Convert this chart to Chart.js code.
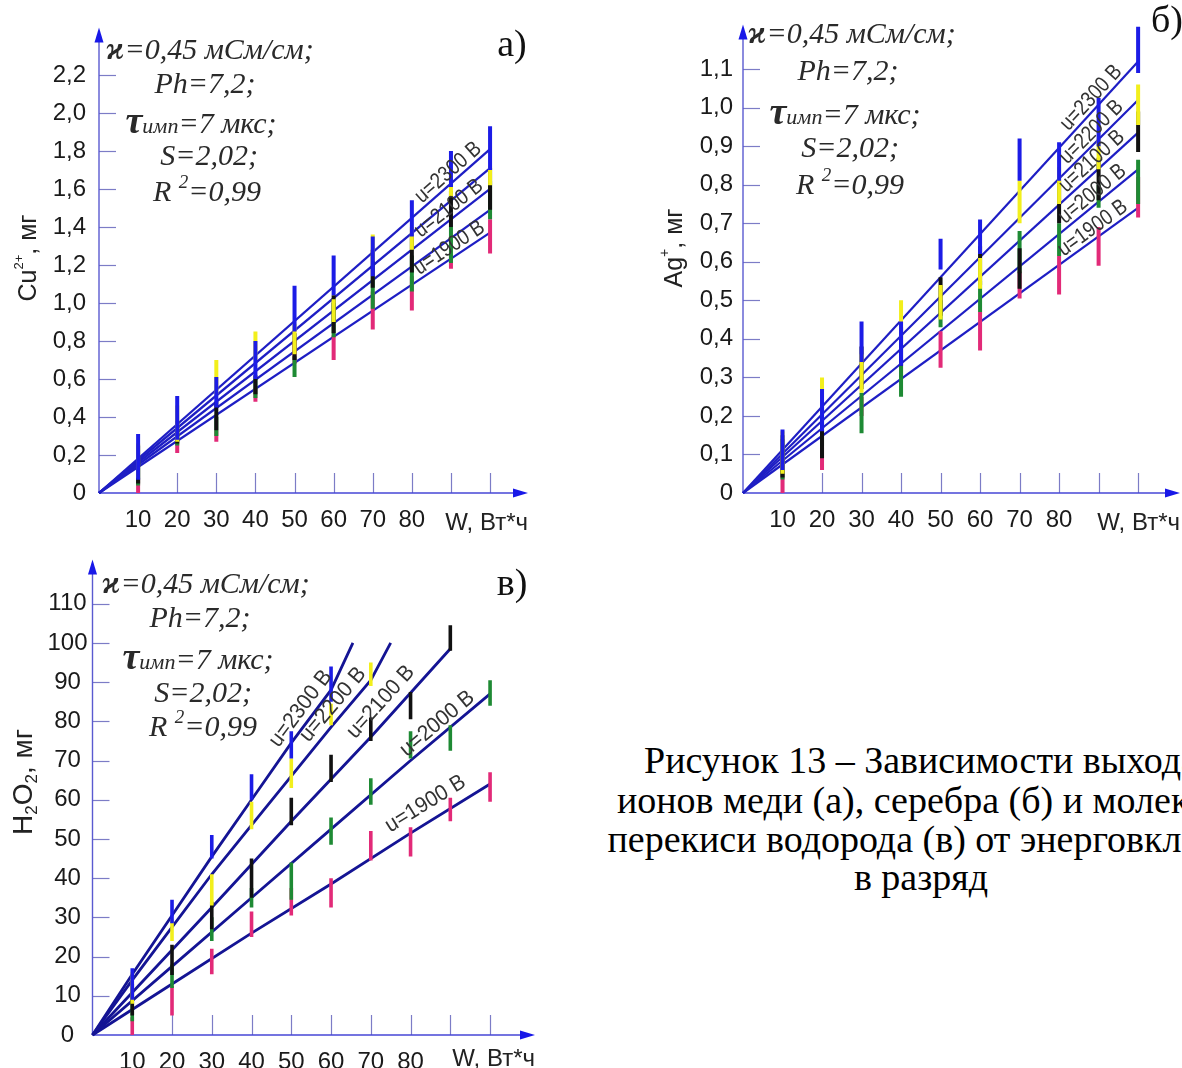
<!DOCTYPE html>
<html><head><meta charset="utf-8">
<script src="https://cdn.jsdelivr.net/npm/chart.js@4.4.1/dist/chart.umd.min.js"></script>
<style>
html,body{margin:0;padding:0;background:#fff;}
body{width:1182px;height:1068px;overflow:hidden;position:relative;}
canvas{position:absolute;}
.t{position:absolute;transform:translate(-50%,-50%);font-family:"Liberation Serif","DejaVu Serif",serif;font-style:italic;font-size:30px;color:#2a2a2a;white-space:nowrap;line-height:1;}
.t .k{font-weight:bold;font-size:32px;}
.t .tau{font-weight:bold;font-size:38px;}
.t .sm{font-size:22px;}
.t sup{font-size:19px;vertical-align:13px;line-height:0;}
.p{position:absolute;transform:translate(-50%,-50%);font-family:"Liberation Serif",serif;font-size:38px;color:#111;line-height:1;}
.cap{position:absolute;transform:translate(-50%,-50%);font-family:"Liberation Serif",serif;font-size:38px;color:#000;white-space:nowrap;line-height:1;}
</style></head>
<body>
<canvas id="ca" width="560" height="540" style="left:0;top:0"></canvas>
<canvas id="cb" width="592" height="540" style="left:590px;top:0"></canvas>
<canvas id="cc" width="560" height="528" style="left:0;top:540px"></canvas>

<div class="t" style="left:210px;top:48px"><span class="k">ϰ</span>=0,45 мСм/см;</div>
<div class="t" style="left:205px;top:83px">Ph=7,2;</div>
<div class="t" style="left:201px;top:120px"><span class="tau">τ</span><span class="sm">имп</span>=7 мкс;</div>
<div class="t" style="left:209px;top:155px">S=2,02;</div>
<div class="t" style="left:207px;top:191px">R <sup>2</sup>=0,99</div>
<div class="p" style="left:512px;top:43px">а)</div>

<div class="t" style="left:852px;top:32px"><span class="k">ϰ</span>=0,45 мСм/см;</div>
<div class="t" style="left:848px;top:70px">Ph=7,2;</div>
<div class="t" style="left:845px;top:111px"><span class="tau">τ</span><span class="sm">имп</span>=7 мкс;</div>
<div class="t" style="left:850px;top:147px">S=2,02;</div>
<div class="t" style="left:850px;top:184px">R <sup>2</sup>=0,99</div>
<div class="p" style="left:1167px;top:19px">б)</div>

<div class="t" style="left:206px;top:582px"><span class="k">ϰ</span>=0,45 мСм/см;</div>
<div class="t" style="left:200px;top:617px">Ph=7,2;</div>
<div class="t" style="left:198px;top:656px"><span class="tau">τ</span><span class="sm">имп</span>=7 мкс;</div>
<div class="t" style="left:203px;top:692px">S=2,02;</div>
<div class="t" style="left:203px;top:726px">R <sup>2</sup>=0,99</div>
<div class="p" style="left:512px;top:582px">в)</div>

<div class="cap" style="left:921px;top:760px">Рисунок 13 – Зависимости выхода</div>
<div class="cap" style="left:921px;top:800px">ионов меди (а), серебра (б) и молекул</div>
<div class="cap" style="left:921px;top:839px">перекиси водорода (в) от энерговклада</div>
<div class="cap" style="left:921px;top:877px">в разряд</div>

<script>
// ---------- shared ----------
const wValues = [10, 20, 30, 40, 50, 60, 70, 80, 90, 100];
const xLabelTicks = [10, 20, 30, 40, 50, 60, 70, 80];
const seriesLabels = ['u=2300 В', 'u=2200 В', 'u=2100 В', 'u=2000 В', 'u=1900 В'];
const barColors = ['#1c1ce6', '#f2ef1c', '#111111', '#1e8a34', '#e22a78'];

// ---------- (а) Cu2+ ----------
const cuTicks = [0, 0.2, 0.4, 0.6, 0.8, 1.0, 1.2, 1.4, 1.6, 1.8, 2.0, 2.2];
const cuFitX = [0, 100];
const cuFit2300 = [0, 1.81];
const cuFit2200 = [0, 1.71];
const cuFit2100 = [0, 1.60];
const cuFit2000 = [0, 1.49];
const cuFit1900 = [0, 1.37];
const cuLo2300 = [0.07, 0.28, 0.45, 0.60, 0.85, 1.04, 1.14, 1.35, 1.61, 1.70];
const cuHi2300 = [0.31, 0.51, 0.61, 0.80, 1.09, 1.25, 1.35, 1.54, 1.80, 1.93];
const cuLo2200 = [0.08, 0.27, 0.52, 0.70, 0.73, 0.90, 1.22, 1.28, 1.56, 1.62];
const cuHi2200 = [0.26, 0.46, 0.70, 0.85, 0.89, 1.02, 1.36, 1.40, 1.63, 1.72];
const cuLo2100 = [0.05, 0.26, 0.33, 0.52, 0.70, 0.84, 1.08, 1.16, 1.40, 1.49];
const cuHi2100 = [0.25, 0.38, 0.48, 0.62, 0.84, 1.04, 1.28, 1.35, 1.59, 1.71];
const cuLo2000 = [0.04, 0.25, 0.30, 0.50, 0.61, 0.82, 0.97, 1.06, 1.21, 1.44];
const cuHi2000 = [0.17, 0.33, 0.40, 0.60, 0.72, 1.00, 1.14, 1.25, 1.40, 1.64];
const cuLo1900 = [0.00, 0.21, 0.27, 0.48, 0.68, 0.70, 0.86, 0.96, 1.18, 1.26];
const cuHi1900 = [0.08, 0.28, 0.33, 0.55, 0.80, 0.83, 1.06, 1.14, 1.25, 1.44];

// ---------- (б) Ag+ ----------
const agTicks = [0, 0.1, 0.2, 0.3, 0.4, 0.5, 0.6, 0.7, 0.8, 0.9, 1.0, 1.1];
const agFitX = [0, 100];
const agFit2300 = [0, 1.12];
const agFit2200 = [0, 1.02];
const agFit2100 = [0, 0.935];
const agFit2000 = [0, 0.84];
const agFit1900 = [0, 0.74];
const agLo2300 = [0.06, 0.16, 0.34, 0.33, 0.58, 0.62, 0.81, 0.81, 0.90, 1.09];
const agHi2300 = [0.165, 0.27, 0.445, 0.445, 0.66, 0.71, 0.92, 0.91, 1.025, 1.21];
const agLo2200 = [0.05, 0.20, 0.26, 0.40, 0.45, 0.53, 0.70, 0.75, 0.84, 0.955];
const agHi2200 = [0.16, 0.30, 0.36, 0.50, 0.54, 0.61, 0.81, 0.845, 0.92, 1.06];
const agLo2100 = [0.04, 0.09, 0.27, 0.33, 0.46, 0.54, 0.53, 0.70, 0.76, 0.885];
const agHi2100 = [0.15, 0.19, 0.38, 0.43, 0.56, 0.64, 0.635, 0.81, 0.87, 0.99];
const agLo2000 = [0.035, 0.12, 0.155, 0.25, 0.43, 0.47, 0.57, 0.615, 0.74, 0.75];
const agHi2000 = [0.14, 0.24, 0.26, 0.33, 0.50, 0.55, 0.68, 0.70, 0.80, 0.865];
const agLo1900 = [0.0, 0.06, 0.20, 0.30, 0.325, 0.37, 0.505, 0.515, 0.59, 0.715];
const agHi1900 = [0.09, 0.12, 0.25, 0.34, 0.42, 0.47, 0.575, 0.615, 0.69, 0.82];

// ---------- (в) H2O2 ----------
const hTicks = [0, 10, 20, 30, 40, 50, 60, 70, 80, 90, 100, 110];
const hFitX2300 = [0, 10, 20, 30, 40, 50, 60, 65.5];
const hFit2300 = [0, 15.5, 30.5, 45.5, 60, 74.5, 88, 100];
const hFitX2200 = [0, 10, 20, 30, 40, 50, 60, 70, 75];
const hFit2200 = [0, 14, 27.5, 41, 53.5, 66, 78.5, 90.5, 100];
const hFitX2100 = [0, 30, 50, 70, 90];
const hFit2100 = [0, 32.5, 54.5, 76, 98.5];
const hFitX2000 = [0, 20, 40, 60, 80, 100];
const hFit2000 = [0, 17.5, 35, 52.5, 70, 87];
const hFitX1900 = [0, 20, 40, 60, 80, 100];
const hFit1900 = [0, 13, 26, 38.5, 51.5, 64];
const hLo2300 = [9, 28.5, 45, 60, 70.5, 85, null, null, null, null];
const hHi2300 = [17, 34.5, 51, 66.5, 77.5, 94, null, null, null, null];
const hLo2200 = [8, 24, 33, 52.5, 63, 79, 89, null, null, null];
const hHi2200 = [16, 29.5, 41, 59.5, 70.5, 84.5, 95, null, null, null];
const hLo2100 = [5, 15.3, 27, 35, 53.5, 64.5, 75, 80.5, 98, null];
const hHi2100 = [13, 23, 34, 45, 60.5, 71.5, 81, 87.5, 104.5, null];
const hLo2000 = [3.5, 12, 24, 32.5, 34.5, 48.5, 58.7, 70.5, 72.5, 84];
const hHi2000 = [11, 18, 30, 37.5, 44, 55.5, 65.5, 77.5, 79, 90.5];
const hLo1900 = [0, 5, 15.5, 25, 30.5, 32.5, 44.5, 45.5, 54.5, 59.5];
const hHi1900 = [4.5, 12.5, 22, 31.5, 37.5, 40, 52, 53, 60.5, 67];

// ---------- helpers ----------
function errSet(lo, hi, color, width) {
  const pts = [];
  wValues.forEach((w, i) => {
    if (lo[i] == null) return;
    pts.push({x: w, y: lo[i]}, {x: w, y: hi[i]}, {x: w, y: null});
  });
  return {data: pts, borderColor: color, borderWidth: width, pointRadius: 0,
    spanGaps: false, order: 0, clip: false, borderCapStyle: 'butt', tension: 0};
}
function fitSet(xs, ys, color, width) {
  return {data: xs.map((x, i) => ({x: x, y: ys[i]})), borderColor: color, borderWidth: width,
    pointRadius: 0, order: 10, clip: false, tension: 0};
}
function drawRich(ctx, parts, cx, cy, rot) {
  ctx.save();
  ctx.translate(cx, cy); ctx.rotate(rot);
  let w = 0;
  parts.forEach(p => { ctx.font = p[1]; w += ctx.measureText(p[0]).width; });
  let x = -w / 2;
  ctx.textBaseline = 'middle'; ctx.textAlign = 'left'; ctx.fillStyle = '#222';
  parts.forEach(p => { ctx.font = p[1]; ctx.fillText(p[0], x, p[2] || 0); x += ctx.measureText(p[0]).width; });
  ctx.restore();
}

const deco = {
  id: 'deco',
  beforeDatasetsDraw(chart, args, o) {
    const ctx = chart.ctx, a = chart.chartArea, xs = chart.scales.x, ys = chart.scales.y;
    ctx.save();
    ctx.strokeStyle = '#7c7cc6'; ctx.lineWidth = 1.2;
    o.yTicks.forEach(v => {
      if (v === 0) return;
      const py = Math.round(ys.getPixelForValue(v)) + 0.5;
      ctx.beginPath(); ctx.moveTo(a.left, py); ctx.lineTo(a.left + 17, py); ctx.stroke();
    });
    wValues.forEach(v => {
      const px = Math.round(xs.getPixelForValue(v)) + 0.5;
      ctx.beginPath(); ctx.moveTo(px, a.bottom); ctx.lineTo(px, a.bottom - 20); ctx.stroke();
    });
    ctx.strokeStyle = '#5a5ad0'; ctx.lineWidth = 1.4;
    ctx.beginPath(); ctx.moveTo(a.left, a.bottom); ctx.lineTo(a.left, a.top + 10); ctx.stroke();
    ctx.strokeStyle = '#4646d6'; ctx.lineWidth = 1.6;
    ctx.beginPath(); ctx.moveTo(a.left, a.bottom); ctx.lineTo(a.right - 10, a.bottom); ctx.stroke();
    ctx.fillStyle = '#1818e8';
    ctx.beginPath(); ctx.moveTo(a.left, a.top); ctx.lineTo(a.left - 4.5, a.top + 15); ctx.lineTo(a.left + 4.5, a.top + 15); ctx.closePath(); ctx.fill();
    ctx.beginPath(); ctx.moveTo(a.right, a.bottom); ctx.lineTo(a.right - 15, a.bottom - 4.5); ctx.lineTo(a.right - 15, a.bottom + 4.5); ctx.closePath(); ctx.fill();
    ctx.restore();
  },
  afterDraw(chart, args, o) {
    const ctx = chart.ctx, a = chart.chartArea, xs = chart.scales.x, ys = chart.scales.y;
    // line labels
    o.labels.forEach(L => {
      const X = L.xs, Y = L.ys;
      let i = 0;
      while (i < X.length - 2 && X[i + 1] < L.at) i++;
      const x0 = xs.getPixelForValue(X[i]), y0 = ys.getPixelForValue(Y[i]);
      const x1 = xs.getPixelForValue(X[i + 1]), y1 = ys.getPixelForValue(Y[i + 1]);
      const t = (L.at - X[i]) / (X[i + 1] - X[i]);
      const px = x0 + t * (x1 - x0), py = y0 + t * (y1 - y0);
      const ang = Math.atan2(y1 - y0, x1 - x0);
      const nx = Math.sin(ang), ny = -Math.cos(ang);
      ctx.save();
      ctx.translate(px + nx * L.off, py + ny * L.off);
      ctx.rotate(ang);
      ctx.scale(o.labelScale, 1);
      ctx.font = '22px "Liberation Sans", Arial, sans-serif';
      ctx.fillStyle = '#333';
      ctx.textAlign = 'center'; ctx.textBaseline = 'middle';
      ctx.fillText(L.text, 0, 0);
      ctx.restore();
    });
    // axis title on x
    ctx.save();
    ctx.font = '24px "Liberation Sans", Arial, sans-serif';
    ctx.fillStyle = '#222'; ctx.textAlign = 'right'; ctx.textBaseline = 'middle';
    ctx.fillText('W, Вт*ч', a.right + o.wShift, a.bottom + o.wDy);
    ctx.restore();
    drawRich(ctx, o.yTitle, o.yTitlePos[0], o.yTitlePos[1], -Math.PI / 2);
  }
};

function makeChart(id, c) {
  return new Chart(document.getElementById(id), {
    type: 'line',
    data: {datasets: c.datasets},
    options: {
      responsive: false, animation: false, events: [],
      layout: {padding: c.pad},
      plugins: {legend: {display: false}, tooltip: {enabled: false}, deco: c.deco},
      scales: {
        x: {type: 'linear', min: 0, max: c.xMax,
          grid: {display: false, drawTicks: false}, border: {display: false},
          afterBuildTicks: s => { s.ticks = xLabelTicks.map(v => ({value: v})); },
          afterFit: s => { s.height = c.xH; },
          ticks: {padding: 13, color: '#1a1a1a', autoSkip: false, maxRotation: 0,
            font: {family: 'Liberation Sans', size: 24}, callback: v => String(v)}},
        y: {type: 'linear', min: 0, max: c.yMax,
          grid: {display: false, drawTicks: false}, border: {display: false},
          afterBuildTicks: s => { s.ticks = c.deco.yTicks.map(v => ({value: v})); },
          afterFit: s => { s.width = c.yW; },
          ticks: {padding: c.yPad, crossAlign: c.cross, color: '#1a1a1a', autoSkip: false,
            font: {family: 'Liberation Sans', size: 24}, callback: c.yFmt}}
      }
    },
    plugins: [deco]
  });
}
const commaFmt = v => v === 0 ? '0' : v.toFixed(1).replace('.', ',');

// ---------- build (а) ----------
const lineA = '#1e1ec4', lineB = '#1e1ec4', lineC = '#141494';
makeChart('ca', {
  pad: {left: 0, top: 15, right: 32, bottom: 0}, yW: 99, xH: 47, xMax: 109.7, yMax: 2.45,
  yPad: 13, cross: 'near', yFmt: commaFmt,
  datasets: [
    errSet(cuLo2300, cuHi2300, barColors[0], 4),
    errSet(cuLo2200, cuHi2200, barColors[1], 4),
    errSet(cuLo2100, cuHi2100, barColors[2], 4),
    errSet(cuLo2000, cuHi2000, barColors[3], 4),
    errSet(cuLo1900, cuHi1900, barColors[4], 4),
    fitSet(cuFitX, cuFit2300, lineA, 2.3),
    fitSet(cuFitX, cuFit2200, lineA, 2.3),
    fitSet(cuFitX, cuFit2100, lineA, 2.3),
    fitSet(cuFitX, cuFit2000, lineA, 2.3),
    fitSet(cuFitX, cuFit1900, lineA, 2.3)
  ],
  deco: {
    yTicks: cuTicks, labelScale: 0.85, wShift: 0, wDy: 30,
    yTitle: [['Cu', '25px "Liberation Sans"'], ['2+', '13px "Liberation Sans"', -10], [', мг', '25px "Liberation Sans"']],
    yTitlePos: [29, 258],
    labels: [
      {text: seriesLabels[0], xs: cuFitX, ys: cuFit2300, at: 91, off: 10},
      {text: seriesLabels[2], xs: cuFitX, ys: cuFit2100, at: 91, off: 10},
      {text: seriesLabels[4], xs: cuFitX, ys: cuFit1900, at: 91, off: 10}
    ]
  }
});

// ---------- build (б) ----------
makeChart('cb', {
  pad: {left: 0, top: 14, right: 2, bottom: 0}, yW: 153, xH: 47, xMax: 110.6, yMax: 1.216,
  yPad: 10, cross: 'near', yFmt: commaFmt,
  datasets: [
    errSet(agLo2300, agHi2300, barColors[0], 4),
    errSet(agLo2200, agHi2200, barColors[1], 4),
    errSet(agLo2100, agHi2100, barColors[2], 4),
    errSet(agLo2000, agHi2000, barColors[3], 4),
    errSet(agLo1900, agHi1900, barColors[4], 4),
    fitSet(agFitX, agFit2300, lineB, 2.2),
    fitSet(agFitX, agFit2200, lineB, 2.2),
    fitSet(agFitX, agFit2100, lineB, 2.2),
    fitSet(agFitX, agFit2000, lineB, 2.2),
    fitSet(agFitX, agFit1900, lineB, 2.2)
  ],
  deco: {
    yTicks: agTicks, labelScale: 0.85, wShift: 0, wDy: 30,
    yTitle: [['Ag', '25px "Liberation Sans"'], ['+', '14px "Liberation Sans"', -10], [', мг', '25px "Liberation Sans"']],
    yTitlePos: [85, 248],
    labels: [
      {text: seriesLabels[0], xs: agFitX, ys: agFit2300, at: 90, off: 10},
      {text: seriesLabels[1], xs: agFitX, ys: agFit2200, at: 90, off: 10},
      {text: seriesLabels[2], xs: agFitX, ys: agFit2100, at: 90, off: 10},
      {text: seriesLabels[3], xs: agFitX, ys: agFit2000, at: 90, off: 10},
      {text: seriesLabels[4], xs: agFitX, ys: agFit1900, at: 90, off: 10}
    ]
  }
});

// ---------- build (в) ----------
makeChart('cc', {
  pad: {left: 42, top: 19, right: 25, bottom: 0}, yW: 50.5, xH: 33, xMax: 111.3, yMax: 121.3,
  yPad: 5, cross: 'center', yFmt: v => String(v),
  datasets: [
    errSet(hLo2300, hHi2300, barColors[0], 3.6),
    errSet(hLo2200, hHi2200, barColors[1], 3.6),
    errSet(hLo2100, hHi2100, barColors[2], 3.6),
    errSet(hLo2000, hHi2000, barColors[3], 3.6),
    errSet(hLo1900, hHi1900, barColors[4], 3.6),
    fitSet(hFitX2300, hFit2300, lineC, 2.8),
    fitSet(hFitX2200, hFit2200, lineC, 2.8),
    fitSet(hFitX2100, hFit2100, lineC, 2.8),
    fitSet(hFitX2000, hFit2000, lineC, 2.8),
    fitSet(hFitX1900, hFit1900, lineC, 2.8)
  ],
  deco: {
    yTicks: hTicks, labelScale: 0.95, wShift: 0, wDy: 24,
    yTitle: [['H', '28px "Liberation Sans"'], ['2', '17px "Liberation Sans"', 8], ['O', '28px "Liberation Sans"'], ['2', '17px "Liberation Sans"', 8], [', мг', '28px "Liberation Sans"']],
    yTitlePos: [24, 242],
    labels: [
      {text: seriesLabels[0], xs: hFitX2300, ys: hFit2300, at: 55, off: 13},
      {text: seriesLabels[1], xs: hFitX2200, ys: hFit2200, at: 63, off: 13},
      {text: seriesLabels[2], xs: hFitX2100, ys: hFit2100, at: 75.5, off: 16},
      {text: seriesLabels[3], xs: hFitX2000, ys: hFit2000, at: 88.5, off: 11},
      {text: seriesLabels[4], xs: hFitX1900, ys: hFit1900, at: 86, off: 17}
    ]
  }
});
</script>
</body></html>
